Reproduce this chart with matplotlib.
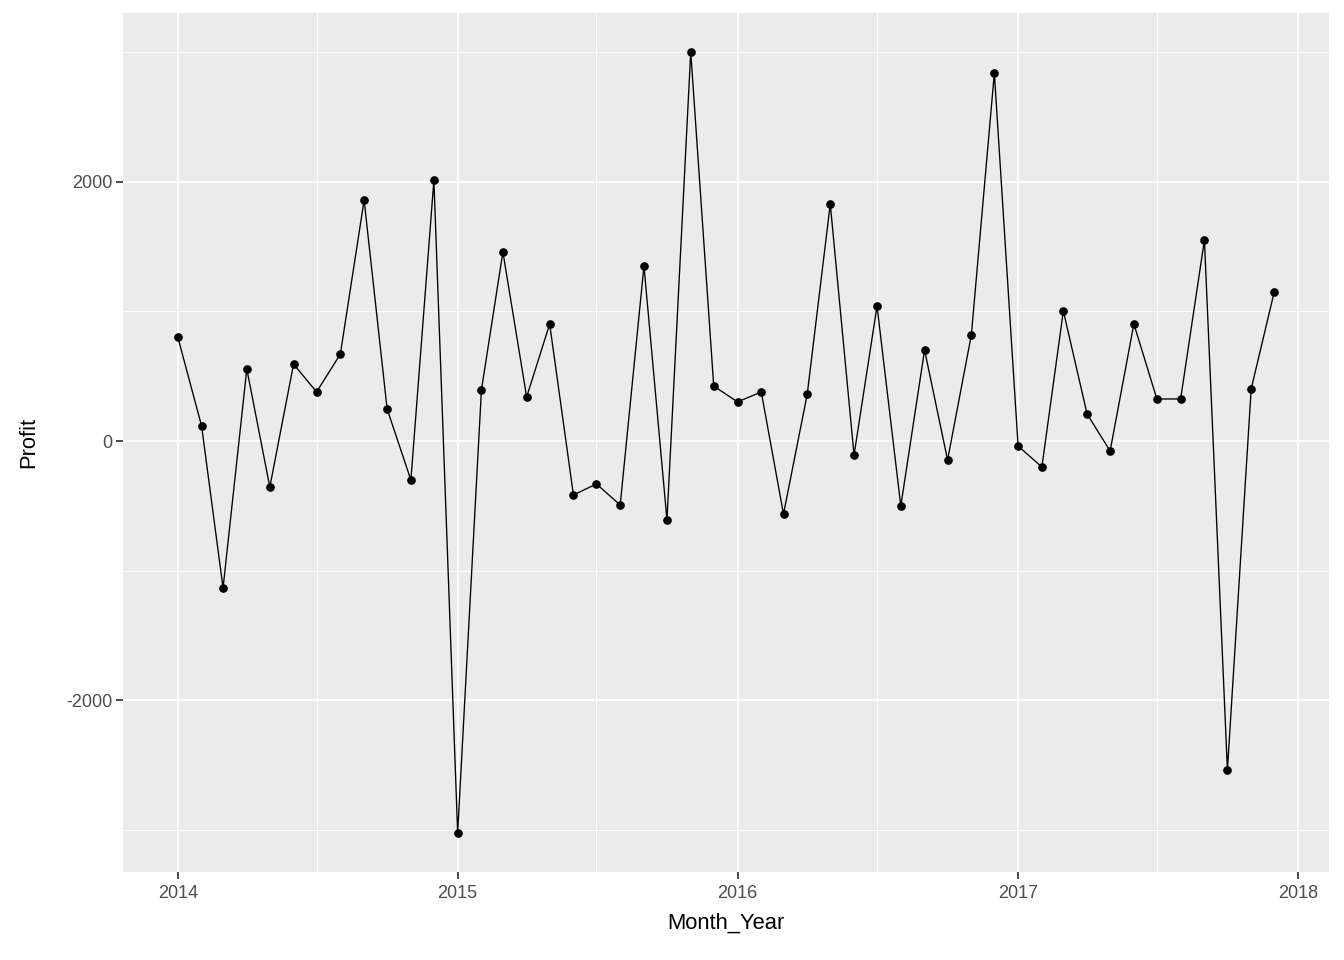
import numpy as np
import pandas as pd
import matplotlib
matplotlib.use("Agg")
import matplotlib.pyplot as plt
import matplotlib.dates as mdates

plt.rcParams['font.family'] = ['Liberation Sans', 'DejaVu Sans']

# monthly profit, Jan 2014 .. Dec 2017
months = pd.date_range("2014-01-01", "2017-12-01", freq="MS")
profit = [801, 116, -1133, 555, -355, 593, 378, 670, 1857, 247, -301, 2011,
          -3021, 393, 1457, 339, 902, -416, -331, -493, 1349, -609, 2998, 424,
          301, 378, -563, 362, 1827, -108, 1040, -501, 701, -146, 817, 2836,
          -39, -200, 1002, 208, -77, 902, 324, 324, 1549, -2536, 401, 1148]

major_years = [2014, 2015, 2016, 2017, 2018]
y_major = [-2000, 0, 2000]
y_minor = [-3000, -1000, 1000, 3000]

fig = plt.figure(figsize=(14, 10), dpi=96)
ax = fig.add_axes([123 / 1344, 88 / 960, (1329 - 123) / 1344, (872 - 13) / 960])
ax.set_facecolor("#EBEBEB")

x = mdates.date2num(months)
ax.plot(x, profit, color="black", lw=1.0, zorder=3)
ax.scatter(x, profit, color="black", s=30, zorder=4)

xt = [mdates.date2num(pd.Timestamp(f"{y}-01-01")) for y in major_years]
xm = [mdates.date2num(pd.Timestamp(f"{y}-07-01")) for y in major_years[:-1]]
ax.set_xticks(xt)
ax.set_xticklabels([str(y) for y in major_years])
ax.set_xticks(xm, minor=True)
ax.set_yticks(y_major)
ax.set_yticklabels([str(v) for v in y_major])
ax.set_yticks(y_minor, minor=True)

span = x[-1] - x[0]
ax.set_xlim(x[0] - 0.05 * span, x[-1] + 0.05 * span)
ymin, ymax = min(profit), max(profit)
yr = ymax - ymin
ax.set_ylim(ymin - 0.05 * yr, ymax + 0.05 * yr)

ax.grid(which="major", color="white", lw=1.4)
ax.grid(which="minor", color="white", lw=0.7)
ax.set_axisbelow(True)
for s in ax.spines.values():
    s.set_visible(False)

ax.tick_params(which="major", length=5, width=1.3, color="#333333",
               labelsize=13.5, labelcolor="#4D4D4D", pad=3)
ax.tick_params(axis="x", which="major", pad=5)
ax.tick_params(which="minor", length=0)

ax.set_xlabel("Month_Year", fontsize=16.5, labelpad=8)
ax.set_ylabel("Profit", fontsize=16.5, labelpad=20)

fig.savefig("out.png", dpi=96)
